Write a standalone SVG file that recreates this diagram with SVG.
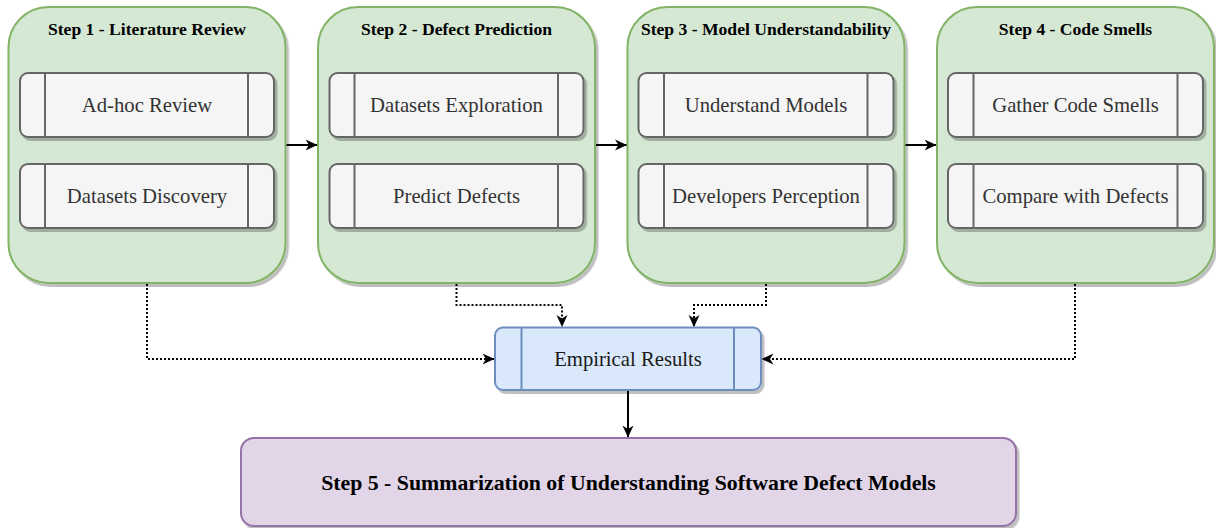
<svg xmlns="http://www.w3.org/2000/svg" width="1216" height="528" viewBox="0 0 1216 528">
  <defs>
    <filter id="shadow" x="-10%" y="-10%" width="130%" height="130%">
      <feDropShadow dx="2.5" dy="3" stdDeviation="0.6" flood-color="#000" flood-opacity="0.25"/>
    </filter>
    <marker id="arrow" markerUnits="userSpaceOnUse" viewBox="0 0 12 12" refX="11.5" refY="6" markerWidth="12" markerHeight="12" orient="auto">
      <path d="M0,0.5 L12,6 L0,11.5 L3.5,6 Z" fill="#000"/>
    </marker>
    <style>
      .step { fill: #d5e8d4; stroke: #82b366; stroke-width: 2; filter: url(#shadow); }
      .task { fill: #f5f5f5; stroke: #666666; stroke-width: 2; filter: url(#shadow); }
      .div-task { stroke: #666666; stroke-width: 2; }
      .result { fill: #dae8fc; stroke: #6c8ebf; stroke-width: 2; filter: url(#shadow); }
      .div-result { stroke: #6c8ebf; stroke-width: 2; }
      .summary { fill: #e1d5e7; stroke: #9673a6; stroke-width: 2; filter: url(#shadow); }
      .title { font-family: "Liberation Serif", "Times New Roman", serif; font-weight: bold; font-size: 17.6px; fill: #000; text-anchor: middle; }
      .label { font-family: "Liberation Serif", "Times New Roman", serif; font-size: 20.7px; fill: #333333; text-anchor: middle; }
      .label-dark { font-family: "Liberation Serif", "Times New Roman", serif; font-size: 20.7px; fill: #1a1a1a; text-anchor: middle; }
      .big { font-family: "Liberation Serif", "Times New Roman", serif; font-weight: bold; font-size: 21.8px; fill: #000; text-anchor: middle; }
      .flow { fill: none; stroke: #000; stroke-width: 2; marker-end: url(#arrow); }
      .dotted { fill: none; stroke: #000; stroke-width: 2; stroke-dasharray: 2 2; marker-end: url(#arrow); }
    </style>
  </defs>

  <!-- Step 1 -->
  <g id="step1">
    <rect class="step" x="8.5" y="7" width="277" height="276" rx="40"/>
    <text class="title" x="147" y="35">Step 1 - Literature Review</text>
    <g id="step1-adhoc">
      <rect class="task" x="20" y="73" width="254" height="64" rx="8"/>
      <line class="div-task" x1="45" y1="73" x2="45" y2="137"/>
      <line class="div-task" x1="248" y1="73" x2="248" y2="137"/>
      <text class="label" x="147" y="112">Ad-hoc Review</text>
    </g>
    <g id="step1-datasets">
      <rect class="task" x="20" y="164" width="254" height="64" rx="8"/>
      <line class="div-task" x1="45" y1="164" x2="45" y2="228"/>
      <line class="div-task" x1="248" y1="164" x2="248" y2="228"/>
      <text class="label" x="147" y="203">Datasets Discovery</text>
    </g>
  </g>

  <!-- Step 2 -->
  <g id="step2">
    <rect class="step" x="318" y="7" width="277" height="276" rx="40"/>
    <text class="title" x="456.5" y="35">Step 2 - Defect Prediction</text>
    <g id="step2-explore">
      <rect class="task" x="329.5" y="73" width="254" height="64" rx="8"/>
      <line class="div-task" x1="354.5" y1="73" x2="354.5" y2="137"/>
      <line class="div-task" x1="558" y1="73" x2="558" y2="137"/>
      <text class="label" x="456.5" y="112">Datasets Exploration</text>
    </g>
    <g id="step2-predict">
      <rect class="task" x="329.5" y="164" width="254" height="64" rx="8"/>
      <line class="div-task" x1="354.5" y1="164" x2="354.5" y2="228"/>
      <line class="div-task" x1="558" y1="164" x2="558" y2="228"/>
      <text class="label" x="456.5" y="203">Predict Defects</text>
    </g>
  </g>

  <!-- Step 3 -->
  <g id="step3">
    <rect class="step" x="627.5" y="7" width="277" height="276" rx="40"/>
    <text class="title" x="766" y="35">Step 3 - Model Understandability</text>
    <g id="step3-understand">
      <rect class="task" x="638.5" y="73" width="255" height="64" rx="8"/>
      <line class="div-task" x1="664" y1="73" x2="664" y2="137"/>
      <line class="div-task" x1="867.5" y1="73" x2="867.5" y2="137"/>
      <text class="label" x="766" y="112">Understand Models</text>
    </g>
    <g id="step3-perception">
      <rect class="task" x="638.5" y="164" width="255" height="64" rx="8"/>
      <line class="div-task" x1="664" y1="164" x2="664" y2="228"/>
      <line class="div-task" x1="867.5" y1="164" x2="867.5" y2="228"/>
      <text class="label" x="766" y="203">Developers Perception</text>
    </g>
  </g>

  <!-- Step 4 -->
  <g id="step4">
    <rect class="step" x="937" y="7" width="277" height="276" rx="40"/>
    <text class="title" x="1075.5" y="35">Step 4 - Code Smells</text>
    <g id="step4-gather">
      <rect class="task" x="948" y="73" width="255" height="64" rx="8"/>
      <line class="div-task" x1="973.5" y1="73" x2="973.5" y2="137"/>
      <line class="div-task" x1="1177.5" y1="73" x2="1177.5" y2="137"/>
      <text class="label" x="1075.5" y="112">Gather Code Smells</text>
    </g>
    <g id="step4-compare">
      <rect class="task" x="948" y="164" width="255" height="64" rx="8"/>
      <line class="div-task" x1="973.5" y1="164" x2="973.5" y2="228"/>
      <line class="div-task" x1="1177.5" y1="164" x2="1177.5" y2="228"/>
      <text class="label" x="1075.5" y="203">Compare with Defects</text>
    </g>
  </g>

  <!-- Empirical results -->
  <g id="results">
    <rect class="result" x="495" y="327.5" width="266" height="62.5" rx="8"/>
    <line class="div-result" x1="521.5" y1="327.5" x2="521.5" y2="390"/>
    <line class="div-result" x1="734" y1="327.5" x2="734" y2="390"/>
    <text class="label-dark" x="628" y="366">Empirical Results</text>
  </g>

  <!-- Step 5 -->
  <g id="step5">
    <rect class="summary" x="241" y="438" width="775" height="88" rx="13"/>
    <text class="big" x="628.5" y="489.5">Step 5 - Summarization of Understanding Software Defect Models</text>
  </g>

  <!-- Connectors -->
  <g id="connectors">
    <line class="flow" x1="286.5" y1="145" x2="317" y2="145"/>
    <line class="flow" x1="596" y1="145" x2="626.5" y2="145"/>
    <line class="flow" x1="905.5" y1="145" x2="936" y2="145"/>
    <path class="dotted" d="M147,284 V359 H494"/>
    <path class="dotted" d="M456.5,284 V305 H562 V326.5"/>
    <path class="dotted" d="M766,284 V305 H694 V326.5"/>
    <path class="dotted" d="M1075,284 V359 H762"/>
    <line class="flow" x1="628" y1="391" x2="628" y2="437"/>
  </g>
</svg>
